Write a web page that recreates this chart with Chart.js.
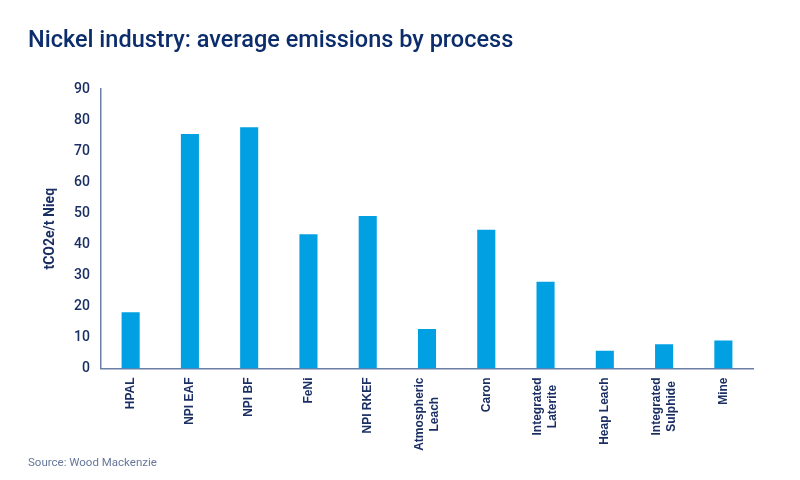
<!DOCTYPE html>
<html>
<head>
<meta charset="utf-8">
<script src="https://cdn.jsdelivr.net/npm/chart.js@4.4.0/dist/chart.umd.min.js"></script>
<style>
  html, body { margin: 0; padding: 0; background: #fff; }
  #wrap { position: relative; width: 800px; height: 480px; overflow: hidden; }
  #chart { position: absolute; left: 0; top: 0; }
  h1 { position: absolute; left: 28px; top: 28px; margin: 0; font: 500 23.5px/1 Roboto, sans-serif; color: #0c2d6b; }
  .source { position: absolute; left: 28px; top: 456px; margin: 0; font: 400 11.5px/1.2 Roboto, sans-serif; color: #66779b; }
</style>
</head>
<body>
<div id="wrap">
  <canvas id="chart" width="800" height="480"></canvas>
  <h1>Nickel industry: average emissions by process</h1>
  <p class="source">Source: Wood Mackenzie</p>
</div>
<script>
// categorias e valores
const processos = [
    ['HPAL'], ['NPI EAF'], ['NPI BF'], ['FeNi'], ['NPI RKEF'],
    ['Atmospheric', 'Leach'], ['Caron'], ['Integrated', 'Laterite'],
    ['Heap Leach'], ['Integrated', 'Sulphide'], ['Mine']
];
const emissoes = [18.1, 75.5, 77.7, 43.2, 49.1, 12.7, 44.7, 27.9, 5.7, 7.8, 9.0];
const yTicks = [0, 10, 20, 30, 40, 50, 60, 70, 80, 90];

const navy = '#1b2f63';
const barBlue = '#00a0e2';
const axisColor = '#6b7ea6';

// rótulos do eixo x girados, com linhas centralizadas
const rotatedLabels = {
    id: 'rotatedLabels',
    afterDraw(chart) {
        const ctx = chart.ctx;
        const xScale = chart.scales.x;
        const lineH = 15;
        ctx.save();
        ctx.font = 'bold 12px "Liberation Sans", Arial, sans-serif';
        ctx.fillStyle = navy;
        ctx.textAlign = 'center';
        ctx.textBaseline = 'middle';
        processos.forEach((lines, i) => {
            const x = xScale.getPixelForTick(i);
            const y0 = xScale.bottom + 9;
            const maxW = Math.max(...lines.map(l => ctx.measureText(l).width));
            ctx.save();
            ctx.translate(x, y0);
            ctx.rotate(-Math.PI / 2);
            lines.forEach((l, k) => {
                ctx.fillText(l, -maxW / 2, (k - (lines.length - 1) / 2) * lineH);
            });
            ctx.restore();
        });
        ctx.restore();
    }
};

new Chart(document.getElementById('chart').getContext('2d'), {
    type: 'bar',
    data: {
        labels: processos.map(p => p.join(' ')),
        datasets: [{ label: 'tCO2e/t Nieq', data: emissoes, backgroundColor: barBlue, barPercentage: 0.305, categoryPercentage: 1 }]
    },
    options: {
        responsive: false, animation: false,
        layout: { padding: { top: 89, right: 47, bottom: 111.5, left: 0 } },
        plugins: { legend: { display: false }, title: { display: false }, tooltip: { enabled: false } },
        scales: {
            x: {
                grid: { display: false, drawTicks: false },
                border: { color: axisColor, width: 1.5 },
                ticks: { display: false }
            },
            y: {
                min: 0, max: 90,
                afterFit: (scale) => { scale.width = 101; },
                afterBuildTicks: (scale) => { scale.ticks = yTicks.map(v => ({ value: v })); },
                grid: { display: false, drawTicks: false },
                border: { color: axisColor, width: 1.5 },
                ticks: { color: navy, padding: 11, font: { family: 'Roboto', size: 14, weight: '500' } },
                title: { display: true, text: 'tCO2e/t Nieq', color: navy, padding: { top: 42 }, font: { family: 'Roboto', size: 14, weight: 'bold' } }
            }
        }
    },
    plugins: [rotatedLabels]
});
</script>
</body>
</html>
